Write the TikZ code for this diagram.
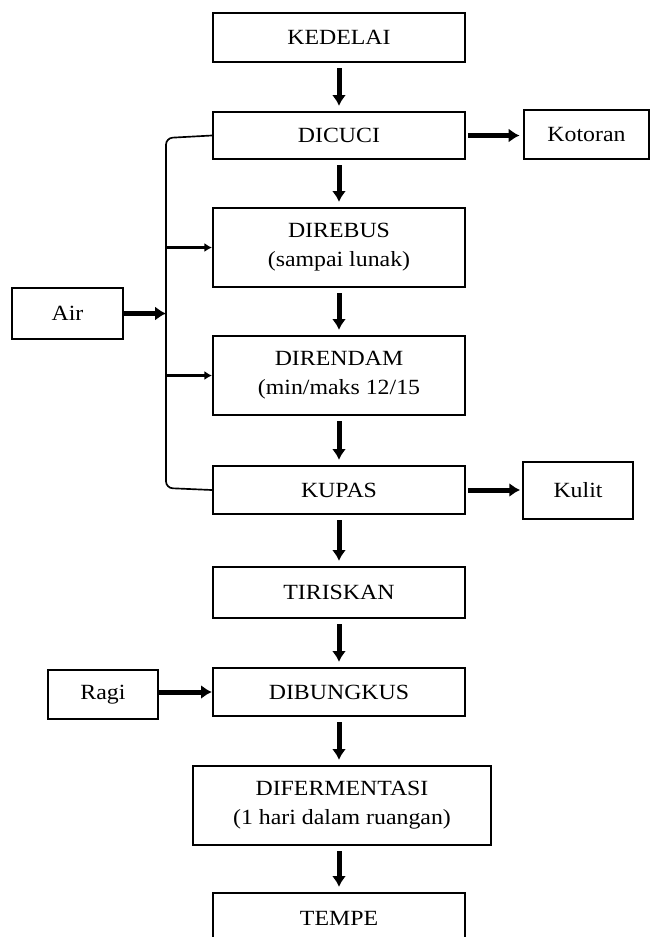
\documentclass[tikz,border=0pt]{standalone}
\usepackage{fontspec}
\setmainfont[FakeStretch=1.1]{Liberation Serif}
\usepackage{tikz}
\usetikzlibrary{arrows.meta}

\tikzset{
  box/.style={draw, line width=1.4pt, inner sep=0pt, align=center,
    font=\fontsize{13}{17.5}\selectfont},
  flow/.style={-{Latex[length=6.5pt,width=8.5pt]}, line width=3pt},
  feed/.style={-{Latex[length=4.5pt,width=5.5pt]}, line width=1.8pt},
}

\begin{document}
\begin{tikzpicture}[x=0.6pt,y=-0.6pt]
          \clip (0,0) rectangle (651,937);
          % main line
          \node[box, minimum width=151.2pt, minimum height=29.4pt] (kedelai) at (339,37.5) {KEDELAI};
          \node[box, minimum width=151.2pt, minimum height=28.2pt] (dicuci) at (339,135.5) {DICUCI};
          \node[box, minimum width=151.2pt, minimum height=47.4pt] (direbus) at (339,247.5) {DIREBUS\\(sampai lunak)};
          \node[box, minimum width=151.2pt, minimum height=47.4pt] (direndam) at (339,375.5) {DIRENDAM\\(min/maks 12/15};
          \node[box, minimum width=151.2pt, minimum height=28.8pt] (kupas) at (339,490) {KUPAS};
          \node[box, minimum width=151.2pt, minimum height=30.6pt] (tiriskan) at (339,592.5) {TIRISKAN};
          \node[box, minimum width=151.2pt, minimum height=28.8pt] (dibungkus) at (339,692) {DIBUNGKUS};
          \node[box, minimum width=178.8pt, minimum height=47.4pt] (difermentasi) at (342,805.5) {DIFERMENTASI\\(1 hari dalam ruangan)};
          \node[box, minimum width=151.2pt, minimum height=30pt] (tempe) at (339,918) {TEMPE};
          % side boxes
          \node[box, minimum width=75pt, minimum height=29.4pt] (kotoran) at (586.5,134.5) {Kotoran};
          \node[box, minimum width=66pt, minimum height=34.2pt] (kulit) at (578,490.5) {Kulit};
          \node[box, minimum width=66.6pt, minimum height=30.6pt] (air) at (67.5,313.5) {Air};
          \node[box, minimum width=66pt, minimum height=29.4pt] (ragi) at (103,694.5) {Ragi};
          % arrows down
          \foreach \a/\b in {kedelai/dicuci, dicuci/direbus, direbus/direndam, direndam/kupas,
                             kupas/tiriskan, tiriskan/dibungkus, dibungkus/difermentasi, difermentasi/tempe}
            \draw[flow, shorten <=3pt, shorten >=3pt] (\a.south -| kedelai) -- (\b.north -| kedelai);
          % arrows out and in
          \draw[flow, shorten <=1pt, shorten >=2pt] (dicuci.east) -- (kotoran.west |- dicuci.east);
          \draw[flow, shorten <=1pt, shorten >=1pt] (kupas.east) -- (kulit.west |- kupas.east);
          \draw[flow] (ragi.east |- dibungkus.west) -- (dibungkus.west);
          % water bracket
          \coordinate (btop) at (166,138);
          \coordinate (bbot) at (166,488);
          \coordinate (bair) at (166,313.5);
          \draw[line width=1pt, rounded corners=4pt] (dicuci.west) -- (btop) -- (bbot) -- (kupas.west);
          \draw[flow] (air.east) -- (bair);
          \draw[feed] (direbus.west -| btop) -- (direbus.west);
          \draw[feed] (direndam.west -| btop) -- (direndam.west);
    \end{tikzpicture}
\end{document}
